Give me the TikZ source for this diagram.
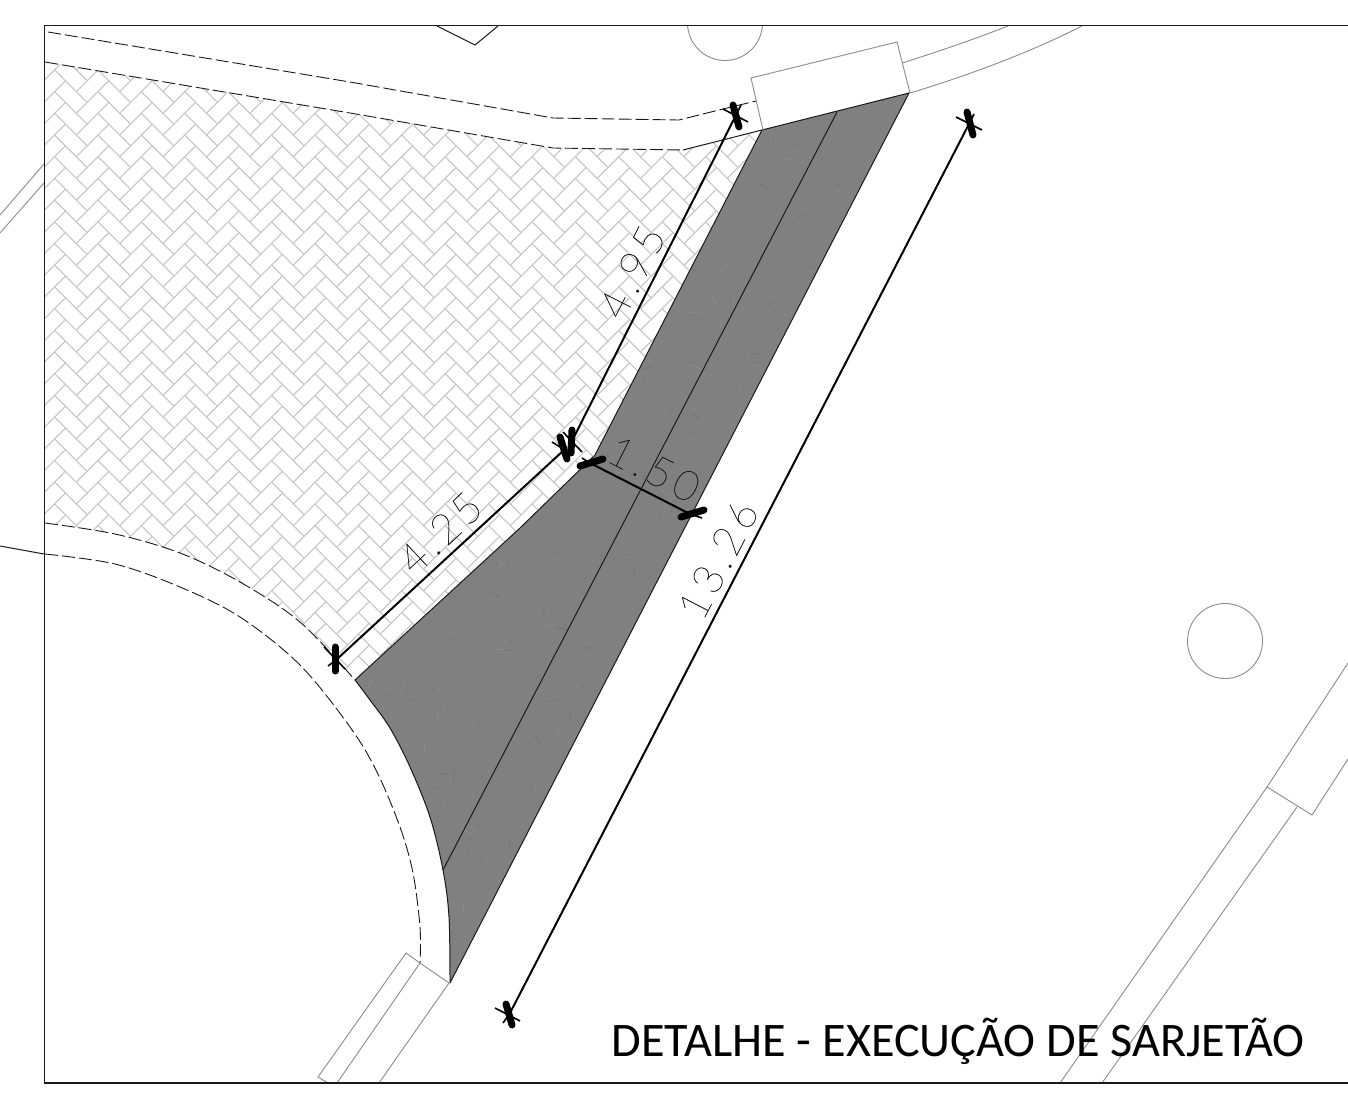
\documentclass[tikz,border=0pt]{standalone}
\usepackage{fontspec}
\setmainfont{Carlito}
\newfontfamily\dimf[LetterSpace=11,FakeBold=0.35]{Lato Thin}
\definecolor{thin}{HTML}{8C8C8C}
\definecolor{brick}{HTML}{CACACA}
\definecolor{road}{HTML}{808080}
\definecolor{ink}{HTML}{1A1A1A}
\tikzset{
  thinline/.style={draw=thin,line width=0.9pt},
  brickline/.style={draw=brick,line width=0.9pt},
  dashline/.style={draw=ink,line width=0.9pt,dash pattern=on 13pt off 4pt},
  solidline/.style={draw=ink,line width=1pt},
  dimline/.style={draw=black,line width=2pt},
  tickbar/.style={draw=black,line width=7pt,line cap=round},
  tickthin/.style={draw=black,line width=1.6pt},
  dimtext/.style={font=\dimf\fontsize{42}{42}\selectfont,text=ink,inner sep=0pt,anchor=center},
  titletext/.style={font=\fontsize{48.2}{48.2}\selectfont,text=black,inner sep=0pt,anchor=base}
}
\begin{document}
\begin{tikzpicture}[x=1pt,y=-1pt]
\useasboundingbox (0,0) rectangle (1348,1108);
\fill[white] (0,0) rectangle (1348,1108);
% herringbone paving
\begin{scope}
\clip (45,62) -- (350,113) -- (553,148) -- (683,150) -- (762,130) -- (595,455) -- (520,528) -- (355,680)
  -- plot[smooth,tension=0.55] coordinates {(355,680) (300,622) (240,582) (180,553) (115,534) (45,523)} -- cycle;
\foreach \i in {0,...,18}{\foreach \j in {0,...,31}{
  \draw[brickline] ({\i*43.4-10.5},{\j*21.7+4.8}) -- ++(21.7,-21.7) -- ++(10.85,10.85) -- ++(-21.7,21.7) -- cycle;
  \draw[brickline] ({\i*43.4+11.2},{\j*21.7-16.9}) -- ++(21.7,21.7) -- ++(10.85,-10.85) -- ++(-21.7,-21.7) -- cycle;
}}
\end{scope}
% gutter fill
\fill[road] (355,680) -- (520,528) -- (595,455) -- (762,130) -- (909,93) -- (450,983)
  -- plot[smooth,tension=0.55] coordinates {(450,983) (449,917) (443,870) (430,817) (410,767) (390,728) (370,700) (355,680)} -- cycle;
\begin{scope}
\clip (355,680) -- (520,528) -- (595,455) -- (762,130) -- (909,93) -- (450,983)
  -- plot[smooth,tension=0.55] coordinates {(450,983) (449,917) (443,870) (430,817) (410,767) (390,728) (370,700) (355,680)} -- cycle;
\pgfmathsetseed{42}
\foreach \k in {1,...,420}{
  \pgfmathsetmacro\px{350+560*rnd}
  \pgfmathsetmacro\py{93+890*rnd}
  \pgfmathsetmacro\pa{360*rnd}
  \pgfmathsetmacro\pl{3+9*rnd}
  \pgfmathparse{rnd<0.5?"707070":"929292"}
  \definecolor{spk}{HTML}{\pgfmathresult}
  \draw[spk,line width=0.5pt] (\px,\py) -- ++(\pa:\pl);
}
\end{scope}
\draw[solidline] (355,680) -- (520,528) -- (595,455) -- (762,130) -- (909,93) -- (450,983);
\draw[solidline] plot[smooth,tension=0.55] coordinates {(450,983) (449,917) (443,870) (430,817) (410,767) (390,728) (370,700) (355,680)};
\draw[solidline] (837,112) -- (443,870);
% dashed kerbs
\draw[dashline] (48,32) -- (350,82) -- (553,118) -- (679,120) -- (723,109) -- (756,101);
\draw[dashline] (45,62) -- (350,113) -- (553,148) -- (683,150);
\draw[solidline] (683,150) -- (762,130);
\draw[dashline] plot[smooth,tension=0.55] coordinates {(45,523) (115,534) (180,553) (240,582) (300,622) (355,680)};
\draw[dashline] plot[smooth,tension=0.55] coordinates {(45,554) (115,564) (180,587) (240,617) (300,665) (350,727) (377,772) (400,827) (413,873) (420,927) (420,963)};
% thin site lines
\begin{scope}
\clip (44.5,25.5) rectangle (1348,1083);
\draw[thinline] (725,23) circle[radius=37.5];
\end{scope}
\draw[thinline] (1225,641) circle[radius=37.5];
\draw[solidline] (437,26) -- (475,45) -- (498,26);
\draw[thinline] (763,130) -- (751,78) -- (897,42) -- (910,93);
\draw[thinline] (902,63) .. controls (937,52) and (975,39) .. (1008,26);
\draw[thinline] (910,93) .. controls (960,78) and (1025,55) .. (1082,26);
\draw[thinline] (0,215) -- (44,164);
\draw[thinline] (0,233) -- (44,183);
\draw[solidline] (0,546) -- (44,554);
\draw[thinline] (420,963) -- (406,953) -- (318,1077) -- (328,1083);
\draw[thinline] (420,963) -- (337,1083);
\draw[thinline] (420,963) -- (449,983) -- (379,1083);
\draw[thinline] (1348,663) -- (1267,787) -- (1060,1083);
\draw[thinline] (1267,787) -- (1312,815) -- (1348,759);
\draw[thinline] (1297,807) -- (1102,1083);
% frame
\draw[draw=ink,line width=1.2pt] (1348,25.5) -- (44.5,25.5) -- (44.5,1083) -- (1348,1083);
% dimensions
\draw[dimline] (510,1013) -- (970,122);
\draw[tickbar] (506,1004) -- (512,1025);
\draw[tickthin] (495,1008) -- (520,1021);
\draw[tickthin] (503,1023) -- (510,1013);
\draw[tickbar] (967,112) -- (973,135);
\draw[tickthin] (956,117) -- (982,130);
\draw[tickthin] (970,122) -- (974,114);
\draw[dimline] (736,115) -- (570,445);
\draw[tickbar] (733,105) -- (739,127);
\draw[tickthin] (723,109) -- (748,122);
\draw[tickthin] (736,115) -- (741,105);
\draw[tickbar] (572,430) -- (571,453);
\draw[tickthin] (563,432) -- (582,452);
\draw[dimline] (336,660) -- (564,450);
\draw[tickbar] (335,647) -- (335,671);
\draw[tickthin] (324,647) -- (345,669);
\draw[tickthin] (328,666) -- (336,660);
\draw[tickbar] (560,437) -- (567,459);
\draw[tickthin] (552,442) -- (570,453);
\draw[dimline] (590,463) -- (690,514);
\draw[tickbar] (580,466) -- (603,459);
\draw[tickthin] (582,458) -- (590,463);
\draw[tickbar] (681,517) -- (704,510);
\draw[tickthin] (690,514) -- (702,518);
\node[dimtext,rotate=62.7] (d1326) at (718,560) {13.26};
\node[dimtext,rotate=63] (d495) at (632,272) {4.95};
\node[dimtext,rotate=43] (d425) at (440,533) {4.25};
\node[dimtext,rotate=-27] (d150) at (654,469) {1.50};
\node[titletext] (title) at (958,1056) {DETALHE - EXECUÇÃO DE SARJETÃO};
\end{tikzpicture}
\end{document}
